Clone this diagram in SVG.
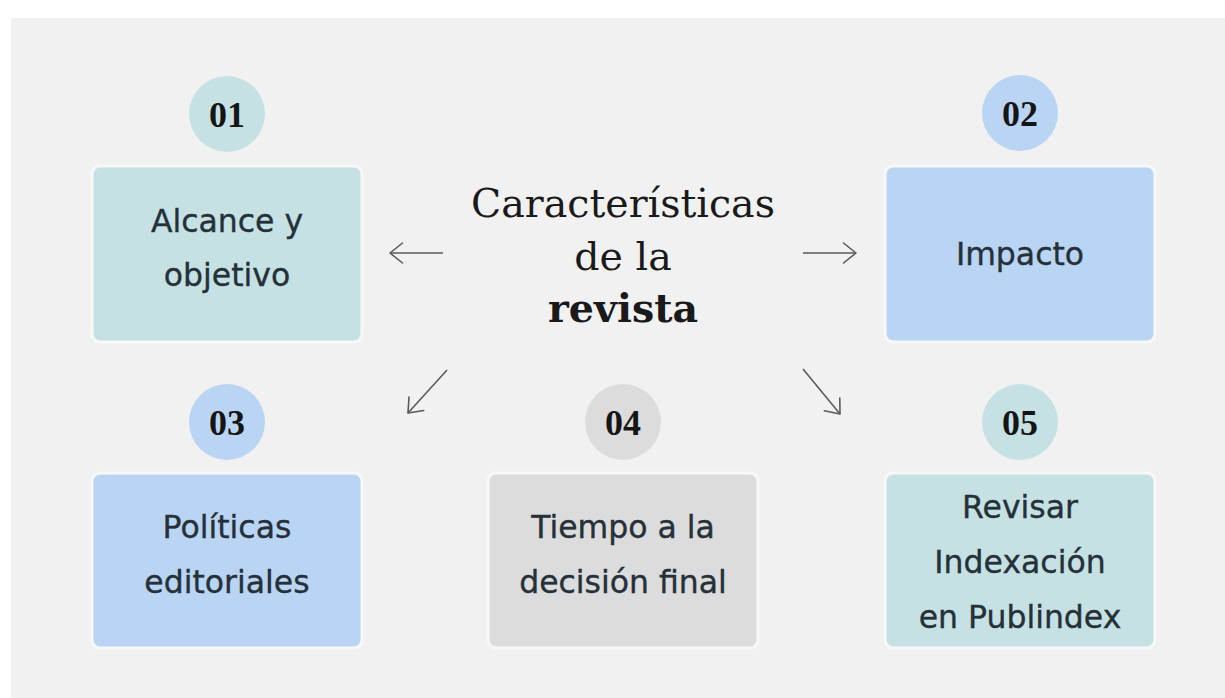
<svg xmlns="http://www.w3.org/2000/svg" width="1225" height="698" viewBox="0 0 1225 698">
  <defs>
    <marker id="head" viewBox="0 0 16 24" refX="14.5" refY="12" markerWidth="16" markerHeight="24" markerUnits="userSpaceOnUse" orient="auto">
      <path d="M2,2 L14.5,12 L2,22" fill="none" stroke="#5a5a5a" stroke-width="1.6" stroke-linecap="round" stroke-linejoin="round"/>
    </marker>
  </defs>
  <style>
    .box { stroke: #f8f8f8; stroke-width: 3; }
    .teal { fill: #c6e1e3; }
    .blue { fill: #b9d5f3; }
    .grey { fill: #dcdcdc; }
    .num { font-family: "Liberation Serif", "DejaVu Serif", serif; font-weight: bold; font-size: 36px; fill: #151515; text-anchor: middle; }
    .lbl { font-family: "DejaVu Sans", "Liberation Sans", sans-serif; font-size: 31.5px; fill: #253039; stroke: #253039; stroke-width: 0.35; text-anchor: middle; }
    .title { font-family: "DejaVu Serif", "Liberation Serif", serif; font-size: 39.5px; fill: #1a1a1a; text-anchor: middle; }
    .conn { stroke: #5a5a5a; stroke-width: 1.6; fill: none; marker-end: url(#head); }
  </style>
  <rect x="0" y="0" width="1225" height="698" fill="#ffffff"/>
  <rect x="11" y="18" width="1214" height="680" fill="#f1f1f1"/>

  <g id="title">
    <text class="title" x="623" y="217">Características</text>
    <text class="title" x="623" y="270">de la</text>
    <text class="title" x="623" y="322" font-weight="bold">revista</text>
  </g>

  <g id="node01">
    <circle class="teal" cx="227" cy="114" r="38"/>
    <text class="num" x="227" y="127">01</text>
    <rect class="box teal" x="92" y="166" width="270" height="176" rx="8"/>
    <text class="lbl" x="227" y="232">Alcance y</text>
    <text class="lbl" x="227" y="286">objetivo</text>
  </g>

  <g id="node02">
    <circle class="blue" cx="1020" cy="113" r="38"/>
    <text class="num" x="1020" y="126">02</text>
    <rect class="box blue" x="885" y="166" width="270" height="176" rx="8"/>
    <text class="lbl" x="1020" y="265">Impacto</text>
  </g>

  <g id="node03">
    <circle class="blue" cx="227" cy="422" r="38"/>
    <text class="num" x="227" y="435">03</text>
    <rect class="box blue" x="92" y="473" width="270" height="175" rx="8"/>
    <text class="lbl" x="227" y="538">Políticas</text>
    <text class="lbl" x="227" y="593">editoriales</text>
  </g>

  <g id="node04">
    <circle class="grey" cx="623" cy="422" r="38"/>
    <text class="num" x="623" y="435">04</text>
    <rect class="box grey" x="488" y="473" width="270" height="175" rx="8"/>
    <text class="lbl" x="623" y="538">Tiempo a la</text>
    <text class="lbl" x="623" y="593">decisión final</text>
  </g>

  <g id="node05">
    <circle class="teal" cx="1020" cy="422" r="38"/>
    <text class="num" x="1020" y="435">05</text>
    <rect class="box teal" x="885" y="473" width="270" height="175" rx="8"/>
    <text class="lbl" x="1020" y="518">Revisar</text>
    <text class="lbl" x="1020" y="573">Indexación</text>
    <text class="lbl" x="1020" y="628">en Publindex</text>
  </g>

  <g id="connectors">
    <line class="conn" x1="443" y1="253" x2="390" y2="253"/>
    <line class="conn" x1="803" y1="253" x2="856" y2="253"/>
    <line class="conn" x1="447" y1="370" x2="408" y2="413"/>
    <line class="conn" x1="803" y1="369" x2="840" y2="414"/>
  </g>
</svg>
